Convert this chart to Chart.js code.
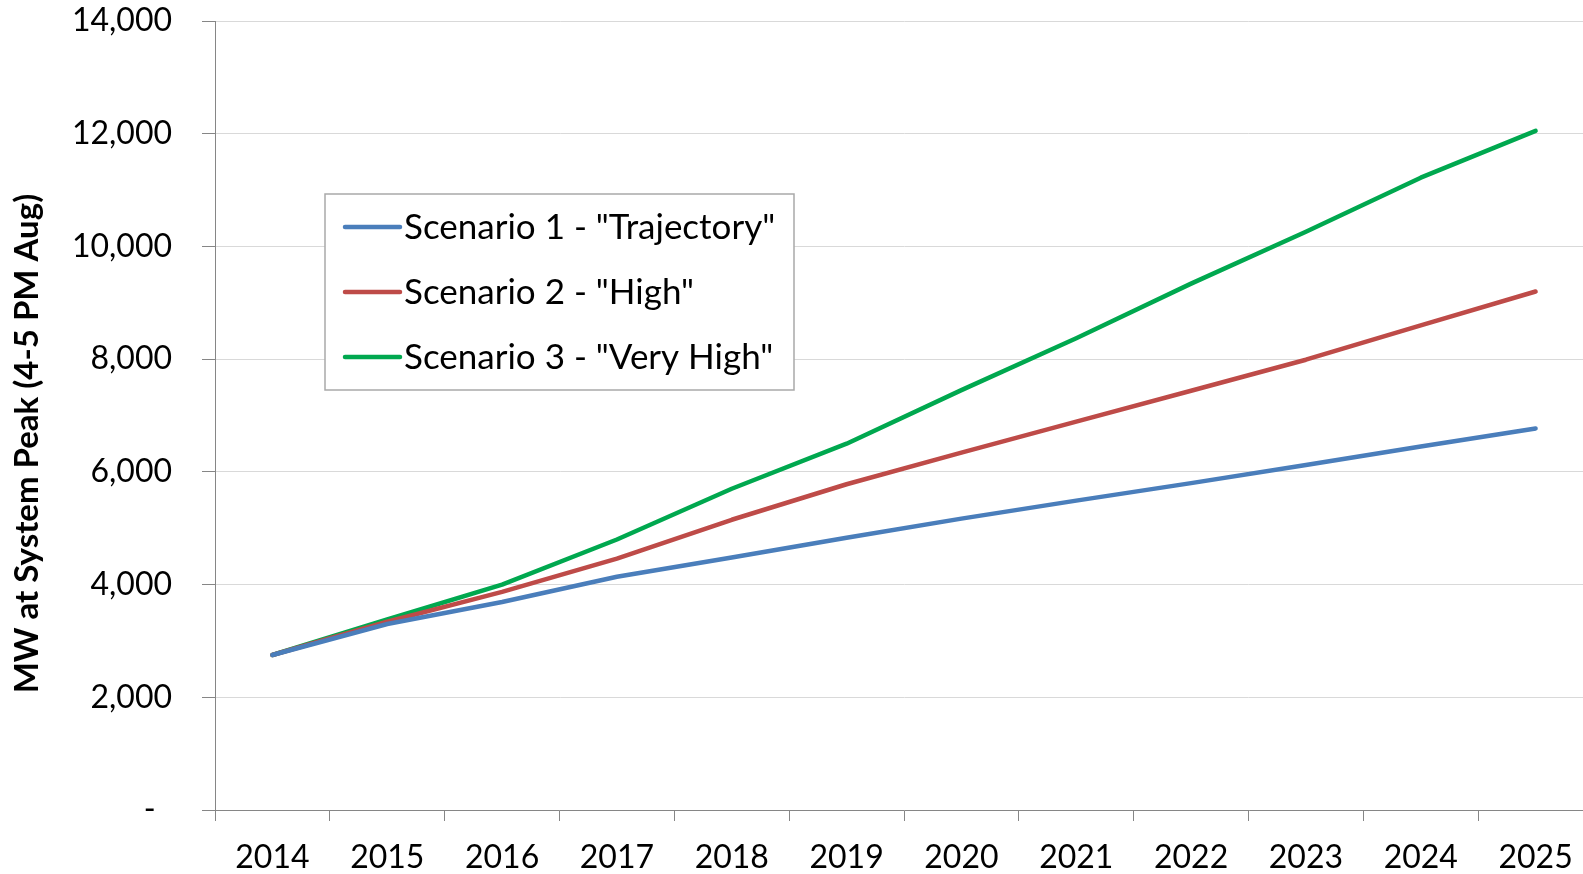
<!DOCTYPE html>
<html>
<head>
<meta charset="utf-8">
<script src="https://cdn.jsdelivr.net/npm/chart.js@4.4.1/dist/chart.umd.min.js"></script>
<style>
    html, body { margin: 0; padding: 0; background: #fff; overflow: hidden; }
    #wrap { width: 1593px; height: 874px; }
</style>
</head>
<body>
<div id="wrap"><canvas id="myChart" width="1593" height="874"></canvas></div>
<script>
"use strict"

// data
const years = ['2014', '2015', '2016', '2017', '2018', '2019', '2020', '2021', '2022', '2023', '2024', '2025'];
const trajectory = [2750, 3300, 3690, 4140, 4480, 4830, 5170, 5490, 5800, 6120, 6450, 6770];
const high = [2750, 3340, 3870, 4460, 5150, 5780, 6340, 6890, 7440, 7990, 8600, 9200];
const veryHigh = [2750, 3380, 4000, 4800, 5700, 6500, 7450, 8370, 9340, 10260, 11220, 12050];
const seriesNames = ['Scenario 1 - "Trajectory"', 'Scenario 2 - "High"', 'Scenario 3 - "Very High"'];
const seriesColors = ['#4A7EBB', '#BE4B48', '#00A84F'];
const yMin = 0;
const yMax = 14000;
const yStep = 2000;
const yTitle = 'MW at System Peak (4-5 PM Aug)';

Chart.defaults.font.family = 'Lato';
Chart.defaults.color = '#000';

// legend drawn as a boxed panel inside the plot
const boxLegend = {
    id: 'boxLegend',
    afterDatasetsDraw(chart) {
        const {ctx, chartArea} = chart;
        const x = chartArea.left + 110;
        const y = chartArea.top + 173;
        const w = 469, h = 196;
        ctx.save();
        ctx.fillStyle = '#fff';
        ctx.fillRect(x, y, w, h);
        ctx.strokeStyle = '#a9a9a9';
        ctx.lineWidth = 1.5;
        ctx.strokeRect(x, y, w, h);
        ctx.font = '35px Lato';
        ctx.textBaseline = 'alphabetic';
        chart.data.datasets.forEach((ds, i) => {
            const ly = y + 33 + i * 65;
            ctx.strokeStyle = ds.borderColor;
            ctx.lineWidth = 4.5;
            ctx.lineCap = 'round';
            ctx.beginPath();
            ctx.moveTo(x + 20, ly);
            ctx.lineTo(x + 75, ly);
            ctx.stroke();
            ctx.fillStyle = '#000';
            ctx.fillText(ds.label, x + 79, ly + 12);
        });
        ctx.restore();
    }
};

const lineData = [trajectory, high, veryHigh];

const data = {
    labels: years,
    datasets: lineData.map((vals, i) => ({
        label: seriesNames[i],
        data: vals,
        borderColor: seriesColors[i],
        backgroundColor: seriesColors[i],
        borderWidth: 4.5,
        borderCapStyle: 'round',
        borderJoinStyle: 'round',
        pointRadius: 0,
        tension: 0,
        fill: false,
    }))
};

let theChart = new Chart(document.getElementById('myChart'), {
    type: 'line',
    data: data,
    options: {
        responsive: false,
        animation: false,
        layout: {
            padding: { top: 21, left: 0, right: 0, bottom: 0 }
        },
        scales: {
            x: {
                offset: true,
                border: { color: '#868686', width: 1 },
                grid: {
                    offset: true,
                    drawOnChartArea: false,
                    tickLength: 11,
                    tickColor: '#868686',
                },
                ticks: {
                    font: { size: 32 },
                    padding: 17,
                    maxRotation: 0,
                    autoSkip: false,
                },
                afterFit(scale) {
                    scale.height = 64;
                    scale.paddingLeft = 0;
                    scale.paddingRight = 0;
                }
            },
            y: {
                min: yMin,
                max: yMax,
                border: { color: '#868686', width: 1 },
                grid: {
                    color: '#d9d9d9',
                    tickColor: '#868686',
                    tickLength: 13,
                },
                ticks: {
                    stepSize: yStep,
                    font: { size: 32 },
                    padding: 30,
                    callback: (v) => v === 0 ? '-  ' : v.toLocaleString('en-US'),
                },
                title: {
                    display: true,
                    // trailing spaces nudge the title down like the original
                    text: yTitle + '       ',
                    font: { size: 33, weight: 'bold' },
                    padding: { top: 8, bottom: 0 },
                },
                afterFit(scale) {
                    scale.width = 215;
                    scale.paddingTop = 0;
                    scale.paddingBottom = 0;
                }
            }
        },
        plugins: {
            legend: { display: false },
            tooltip: { enabled: false }
        }
    },
    plugins: [boxLegend]
});
</script>
</body>
</html>
